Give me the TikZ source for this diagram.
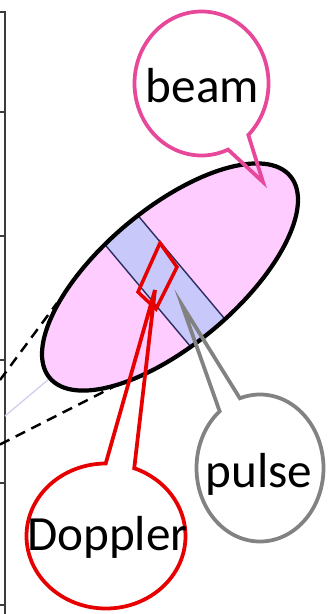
\documentclass[tikz,border=0pt]{standalone}
\usepackage{fontspec}
\setmainfont{Carlito}
\usetikzlibrary{shapes.callouts}
\definecolor{BeamPink}{RGB}{255,204,255}
\definecolor{PulseBand}{RGB}{200,200,250}
\definecolor{BandEdge}{RGB}{45,45,95}
\definecolor{AxisGray}{RGB}{60,60,60}
\definecolor{CenterLine}{RGB}{210,210,240}
\definecolor{CallPink}{RGB}{232,72,154}
\definecolor{CallGray}{RGB}{130,130,130}
\definecolor{CallRed}{RGB}{230,0,0}
\tikzset{
  axisline/.style={draw=AxisGray,line width=1.5pt},
  edgeline/.style={draw=black,line width=2.1pt,dash pattern=on 9pt off 6pt},
  callbox/.style={ellipse callout,draw,line width=3.2pt,callout pointer arc=21,inner sep=0pt},
  calltext/.style={font=\fontsize{42}{48}\selectfont,anchor=base,inner sep=0pt}
}

\begin{document}
\begin{tikzpicture}[x=0.03cm,y=-0.03cm]
  \useasboundingbox (0,0) rectangle (332,614);
  \draw[axisline] (0,12) -- (5,12) -- (5,614);
  \foreach \ty in {112,236,360,483,605}
    \draw[axisline] (0,\ty) -- (5,\ty);
  \coordinate (beamc) at (170,277);
  \coordinate (axisfoot) at (5,416);
  \coordinate (upfoot) at (0,380);
  \coordinate (uptop) at (57,303);
  \coordinate (lowfoot) at (0,444.5);
  \coordinate (lowtop) at (115,386);
  \draw[draw=CenterLine,line width=1.2pt] (axisfoot) -- (beamc);
  \draw[edgeline] (upfoot) -- (uptop);
  \draw[edgeline] (lowfoot) -- (lowtop);
  \begin{scope}[shift={(beamc)},rotate=40]
    \fill[BeamPink] (0,0) ellipse [x radius=157,y radius=68];
    \begin{scope}
      \clip (0,0) ellipse [x radius=157,y radius=68];
      \fill[PulseBand] (-29,-80) rectangle (15,80);
      \draw[BandEdge,line width=1.2pt] (-29,-80) -- (-29,80) (15,-80) -- (15,80);
    \end{scope}
    \draw[line width=3.6pt] (0,0) ellipse [x radius=157,y radius=68];
  \end{scope}
  \draw[CallRed,line width=3pt] (160,243) -- (177,267) -- (156,309) -- (138,292) -- cycle;
  \coordinate (beamtip) at (263,182);
  \coordinate (pulsetip) at (182,305);
  \coordinate (dopptip) at (155,290);
  \node[callbox,draw=CallPink,minimum width=4.02cm,minimum height=4.32cm,
    callout absolute pointer={(beamtip)}] (beamcall) at (201.5,83.5) {};
  \node[callbox,draw=CallGray,minimum width=3.81cm,minimum height=4.41cm,
    callout absolute pointer={(pulsetip)}] (pulsecall) at (260,468) {};
  \node[callbox,draw=CallRed,minimum width=4.77cm,minimum height=4.35cm,
    callout absolute pointer={(dopptip)}] (doppcall) at (106,536) {};
  \node[calltext] (beamtxt) at (202.5,102) {beam};
  \node[calltext] (pulsetxt) at (259,487) {pulse};
  \node[calltext] (dopptxt) at (107.5,550) {Doppler};
\end{tikzpicture}
\end{document}
